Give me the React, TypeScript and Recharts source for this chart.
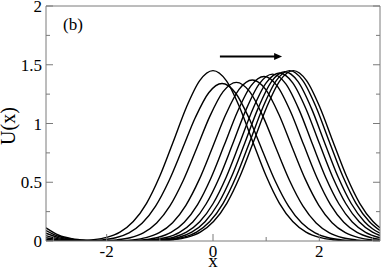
import { LineChart, Line, XAxis, YAxis, ReferenceLine } from 'recharts';

// plot frame (px) inside the 382x270 chart
const PLOT_LEFT = 46;
const PLOT_RIGHT = 380;
const PLOT_TOP = 6;
const PLOT_BOTTOM = 241;
const AXIS = '#7a7a7a';
const FONT = '"Liberation Serif", "Times New Roman", serif';

const X_DOMAIN: [number, number] = [-3.1416, 3.1416];
const X_TICKS = [-3, -2, -1, 0, 1, 2, 3];
const X_MAJOR = [-2, 0, 2];
const Y_TICKS = [0, 0.25, 0.5, 0.75, 1, 1.25, 1.5, 1.75, 2];
const Y_MAJOR = [0, 0.5, 1, 1.5, 2];

// arrow annotation (data coords)
const ARROW_X = [0.13, 1.3];
const ARROW_Y = 1.57;

// U(x) profiles, earliest (peak at x=0) to latest
const X1 = [-3.1416, -2.5, -2.25, -2, -1.75, -1.5, -1.25, -1, -0.75, -0.5, -0.25, 0, 0.25, 0.5, 0.75, 1, 1.25, 1.5, 1.75, 2, 2.25, 2.5, 3.1416];
const U1 = [0, 0.003, 0.011, 0.031, 0.076, 0.166, 0.321, 0.553, 0.843, 1.139, 1.365, 1.45, 1.365, 1.139, 0.843, 0.553, 0.321, 0.166, 0.076, 0.031, 0.011, 0.003, 0];

const X2 = [-3.1416, -2.33, -2.08, -1.83, -1.58, -1.33, -1.08, -0.83, -0.58, -0.33, -0.08, 0.17, 0.42, 0.67, 0.92, 1.17, 1.42, 1.67, 1.92, 2.17, 2.42, 2.67, 3.1416];
const U2 = [0, 0.003, 0.01, 0.028, 0.07, 0.153, 0.297, 0.511, 0.779, 1.053, 1.262, 1.34, 1.262, 1.053, 0.779, 0.511, 0.297, 0.153, 0.07, 0.028, 0.01, 0.003, 0];

const X3 = [-3.1416, -2.06, -1.81, -1.56, -1.31, -1.06, -0.81, -0.56, -0.31, -0.06, 0.19, 0.44, 0.69, 0.94, 1.19, 1.44, 1.69, 1.94, 2.19, 2.44, 2.69, 2.94, 3.1416];
const U3 = [0.001, 0.003, 0.01, 0.028, 0.07, 0.154, 0.299, 0.515, 0.785, 1.061, 1.271, 1.35, 1.271, 1.061, 0.785, 0.515, 0.299, 0.154, 0.07, 0.028, 0.01, 0.003, 0.001];

const X4 = [-3.1416, -2.9, -2.5, -1.76, -1.51, -1.26, -1.01, -0.76, -0.51, -0.26, -0.01, 0.24, 0.49, 0.74, 0.99, 1.24, 1.49, 1.74, 1.99, 2.24, 2.49, 2.74, 2.99, 3.1416];
const U4 = [0.005, 0.002, 0, 0.003, 0.01, 0.029, 0.071, 0.156, 0.304, 0.522, 0.796, 1.076, 1.29, 1.37, 1.29, 1.076, 0.796, 0.522, 0.304, 0.156, 0.071, 0.029, 0.01, 0.005];

const X5 = [-3.1416, -2.9, -2.65, -2.3, -1.54, -1.29, -1.04, -0.79, -0.54, -0.29, -0.04, 0.21, 0.46, 0.71, 0.96, 1.21, 1.46, 1.71, 1.96, 2.21, 2.46, 2.71, 2.96, 3.1416];
const U5 = [0.014, 0.005, 0.001, 0, 0.003, 0.011, 0.03, 0.073, 0.16, 0.31, 0.534, 0.814, 1.1, 1.318, 1.4, 1.318, 1.1, 0.814, 0.534, 0.31, 0.16, 0.073, 0.03, 0.014];

const X6 = [-3.1416, -2.9, -2.65, -2.3, -1.9, -1.38, -1.13, -0.88, -0.63, -0.38, -0.13, 0.12, 0.37, 0.62, 0.87, 1.12, 1.37, 1.62, 1.87, 2.12, 2.37, 2.62, 2.87, 3.1416];
const U6 = [0.028, 0.01, 0.003, 0, 0, 0.003, 0.011, 0.03, 0.074, 0.162, 0.315, 0.541, 0.825, 1.116, 1.337, 1.42, 1.337, 1.116, 0.825, 0.541, 0.315, 0.162, 0.074, 0.028];

const X7 = [-3.1416, -2.9, -2.65, -2.4, -2, -1.25, -1, -0.75, -0.5, -0.25, 0, 0.25, 0.5, 0.75, 1, 1.25, 1.5, 1.75, 2, 2.25, 2.5, 2.75, 3, 3.1416];
const U7 = [0.046, 0.018, 0.006, 0.002, 0, 0.003, 0.011, 0.03, 0.075, 0.163, 0.317, 0.545, 0.831, 1.124, 1.346, 1.43, 1.346, 1.124, 0.831, 0.545, 0.317, 0.163, 0.075, 0.046];

const X8 = [-3.1416, -2.9, -2.65, -2.4, -2, -1.15, -0.9, -0.65, -0.4, -0.15, 0.1, 0.35, 0.6, 0.85, 1.1, 1.35, 1.6, 1.85, 2.1, 2.35, 2.6, 2.85, 3, 3.1416];
const U8 = [0.066, 0.027, 0.009, 0.003, 0, 0.003, 0.011, 0.03, 0.075, 0.164, 0.319, 0.549, 0.837, 1.131, 1.356, 1.44, 1.356, 1.131, 0.837, 0.549, 0.319, 0.164, 0.104, 0.066];

const X9 = [-3.1416, -2.9, -2.65, -2.4, -2.1, -1.7, -1.06, -0.81, -0.56, -0.31, -0.06, 0.19, 0.44, 0.69, 0.94, 1.19, 1.44, 1.69, 1.94, 2.19, 2.44, 2.69, 2.94, 3.1416];
const U9 = [0.089, 0.038, 0.014, 0.005, 0.001, 0, 0.003, 0.011, 0.031, 0.076, 0.166, 0.321, 0.553, 0.843, 1.139, 1.365, 1.45, 1.365, 1.139, 0.843, 0.553, 0.321, 0.166, 0.089];

const X10 = [-3.1416, -2.9, -2.65, -2.4, -2.1, -1.6, -0.99, -0.74, -0.49, -0.24, 0.01, 0.26, 0.51, 0.76, 1.01, 1.26, 1.51, 1.76, 2.01, 2.26, 2.51, 2.76, 3.01, 3.1416];
const U10 = [0.112, 0.049, 0.019, 0.006, 0.001, 0, 0.003, 0.011, 0.031, 0.076, 0.166, 0.321, 0.553, 0.843, 1.139, 1.365, 1.45, 1.365, 1.139, 0.843, 0.553, 0.321, 0.166, 0.112];

interface Pt {
  x: number;
  u: number;
}

const PROFILES: Pt[][] = [
  [X1, U1], [X2, U2], [X3, U3], [X4, U4], [X5, U5],
  [X6, U6], [X7, U7], [X8, U8], [X9, U9], [X10, U10],
].map(([xs, us]) => xs.map((x, i) => ({ x, u: us[i] })));

const textStyle = { fontFamily: FONT, fill: '#000' };

// ticks point inward, labels only on major ticks
const bottomTick = (p: any) => {
  const v = p.payload.value as number;
  const major = X_MAJOR.includes(v);
  return (
    <g>
      <line x1={p.x} x2={p.x} y1={PLOT_BOTTOM} y2={PLOT_BOTTOM - (major ? 7 : 4)} stroke={AXIS} />
      {major && (
        <text x={p.x} y={PLOT_BOTTOM + 16} textAnchor="middle" fontSize={17} style={textStyle}>
          {String(v)}
        </text>
      )}
    </g>
  );
};

const topTick = (p: any) => {
  const major = X_MAJOR.includes(p.payload.value);
  return <line x1={p.x} x2={p.x} y1={PLOT_TOP} y2={PLOT_TOP + (major ? 7 : 4)} stroke={AXIS} />;
};

const leftTick = (p: any) => {
  const v = p.payload.value as number;
  const major = Y_MAJOR.includes(v);
  return (
    <g>
      <line x1={PLOT_LEFT} x2={PLOT_LEFT + (major ? 7 : 4)} y1={p.y} y2={p.y} stroke={AXIS} />
      {major && (
        <text x={PLOT_LEFT - 4} y={p.y + 6} textAnchor="end" fontSize={17} style={textStyle}>
          {String(v)}
        </text>
      )}
    </g>
  );
};

const rightTick = (p: any) => {
  const major = Y_MAJOR.includes(p.payload.value);
  return <line x1={PLOT_RIGHT} x2={PLOT_RIGHT - (major ? 7 : 4)} y1={p.y} y2={p.y} stroke={AXIS} />;
};

const arrowShape = (p: any) => (
  <g>
    <line x1={p.x1} y1={p.y1} x2={p.x2 - 5} y2={p.y2} stroke="#000" strokeWidth={2} />
    <polygon points={`${p.x2},${p.y2} ${p.x2 - 8},${p.y2 - 3.5} ${p.x2 - 8},${p.y2 + 3.5}`} fill="#000" />
  </g>
);

export default function App() {
  return (
    <div style={{ position: 'absolute', left: 0, top: 0 }}>
      <LineChart
        width={382}
        height={270}
        margin={{ top: PLOT_TOP - 1, right: 382 - PLOT_RIGHT - 1, bottom: 0, left: 0 }}
      >
        <XAxis
          type="number"
          dataKey="x"
          domain={X_DOMAIN}
          allowDataOverflow
          ticks={X_TICKS}
          interval={0}
          height={270 - PLOT_BOTTOM}
          axisLine={{ stroke: AXIS }}
          tickLine={false}
          tick={bottomTick}
          label={() => (
            <text x={(PLOT_LEFT + PLOT_RIGHT) / 2} y={267} textAnchor="middle" fontSize={19} style={textStyle}>
              x
            </text>
          )}
        />
        <XAxis
          xAxisId="top"
          orientation="top"
          type="number"
          domain={X_DOMAIN}
          allowDataOverflow
          ticks={X_TICKS}
          interval={0}
          height={1}
          axisLine={{ stroke: AXIS }}
          tickLine={false}
          tick={topTick}
          label={() => (
            <text x={63} y={30} fontSize={17} style={textStyle}>
              (b)
            </text>
          )}
        />
        <YAxis
          type="number"
          domain={[0, 2]}
          allowDataOverflow
          ticks={Y_TICKS}
          interval={0}
          width={PLOT_LEFT}
          axisLine={{ stroke: AXIS }}
          tickLine={false}
          tick={leftTick}
          label={() => (
            <text x={15} y={126} transform="rotate(-90 15 126)" textAnchor="middle" fontSize={20} style={textStyle}>
              U(x)
            </text>
          )}
        />
        <YAxis
          yAxisId="right"
          orientation="right"
          type="number"
          domain={[0, 2]}
          allowDataOverflow
          ticks={Y_TICKS}
          interval={0}
          width={1}
          axisLine={{ stroke: AXIS }}
          tickLine={false}
          tick={rightTick}
        />
        {PROFILES.map((pts, i) => (
          <Line
            key={i}
            data={pts}
            dataKey="u"
            type="monotone"
            stroke="#000"
            strokeWidth={1.4}
            dot={false}
            activeDot={false}
            isAnimationActive={false}
          />
        ))}
        <ReferenceLine
          segment={[
            { x: ARROW_X[0], y: ARROW_Y },
            { x: ARROW_X[1], y: ARROW_Y },
          ]}
          shape={arrowShape}
        />
      </LineChart>
    </div>
  );
}
